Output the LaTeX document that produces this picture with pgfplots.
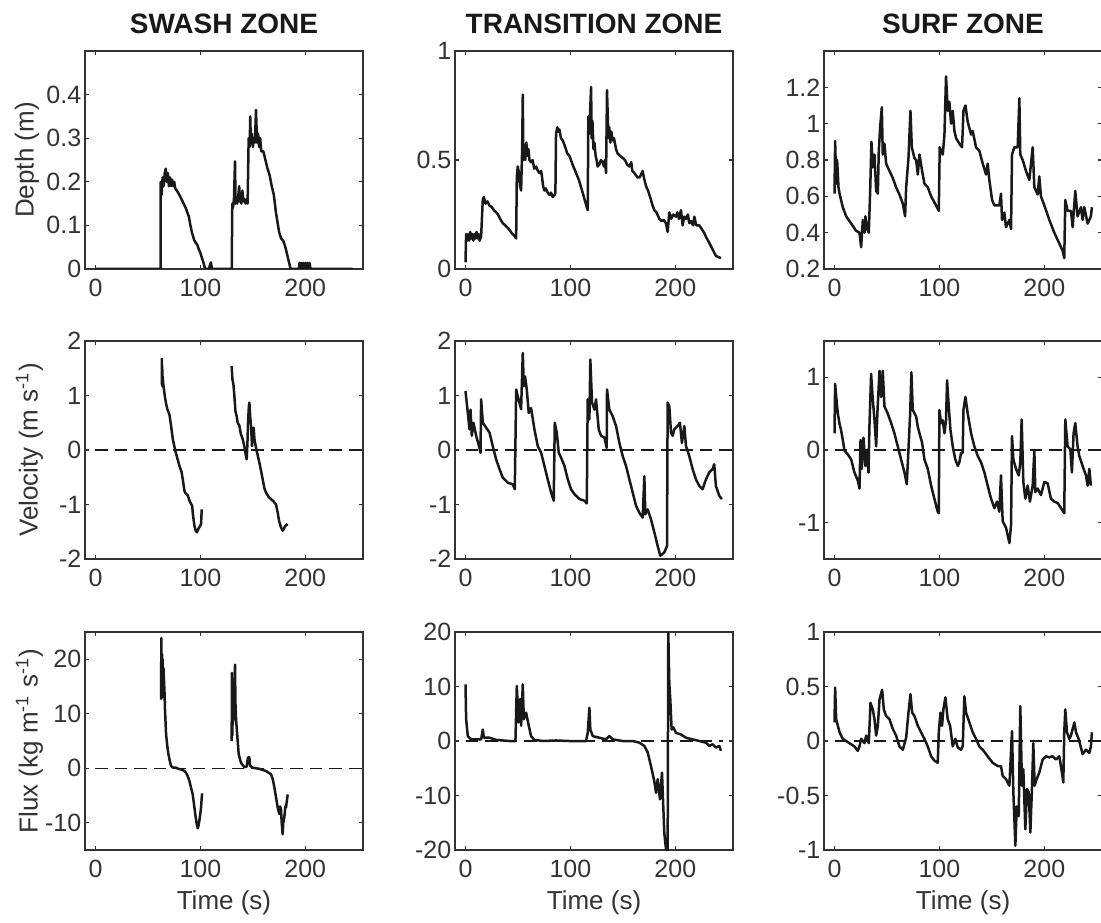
\documentclass[border=0pt]{standalone}
\usepackage{fontspec}
\setmainfont{Liberation Sans}
\usepackage{pgfplots}
\pgfplotsset{compat=1.18}
\definecolor{ink}{gray}{0.1}
\definecolor{frame}{gray}{0.2}
\pgfplotsset{
  panel/.style={
    scale only axis, width=111.2pt, height=87.2pt,
    xmin=-10, xmax=255, xtick={0,100,200},
    tick pos=both, tick align=inside, major tick length=1.6pt,
    axis line style={draw=frame, line width=0.7pt},
    every tick/.style={draw=frame, line width=0.5pt},
    tick label style={font=\fontsize{10}{12}\selectfont, text=frame},
    /pgf/number format/assume math mode=true,
    xticklabel style={inner sep=0pt, yshift=-4pt},
    yticklabel style={inner sep=0pt, xshift=-1.3pt},
    every axis title/.style={at={(axis description cs:0.5,1)}, anchor=center, yshift=10.8pt, font=\bfseries\fontsize{11.2}{13}\selectfont, text=ink},
    every axis y label/.style={at={(axis description cs:-0.2,0.5)}, rotate=90, anchor=center, font=\fontsize{10.4}{12}\selectfont, text=frame},
    every axis x label/.style={at={(axis description cs:0.5,-0.243)}, anchor=center, font=\fontsize{10.4}{12}\selectfont, text=frame},
    trace/.style={ink, line width=1pt, line join=round, mark=none},
    zeroline/.style={ink, line width=0.6pt, dash pattern=on 5pt off 2.8pt},
  }
}
\begin{document}
\begin{tikzpicture}
% ---------------- Row 1: Depth ----------------
\begin{axis}[panel, at={(34pt,-20.4pt)}, anchor=north west,
  title={SWASH ZONE}, ylabel={Depth (m)},
  every axis y label/.append style={at={(axis description cs:-0.2086,0.5)}},
  ymin=0, ymax=0.5, ytick={0,0.1,0.2,0.3,0.4}]
\addplot[trace] coordinates {
(0,0) (62,0) (62.2,0.20) (63,0.17) (64,0.21) (65,0.19) (66,0.22) (67,0.23) (68,0.20) (69,0.22) (70,0.19) (71,0.21) (72,0.19) (73,0.205) (74,0.19) (75,0.20) (76,0.185) (78,0.178) (80,0.17) (82,0.16) (84,0.15) (86,0.14) (87.5,0.13) (89,0.12) (90.5,0.10) (92,0.083) (93,0.075) (94,0.067) (95.5,0.06) (97,0.056) (98.5,0.045) (100,0.037) (101.5,0.025) (103,0.014) (104.5,0) (108,0) (110,0.015) (111,0) (130,0)
(130.2,0.12) (130.5,0.15) (131,0.14) (132,0.16) (133,0.247) (133.5,0.15) (134,0.16) (135,0.15) (136,0.165) (137,0.19) (137.5,0.155) (138,0.16) (139,0.15) (140,0.18) (141,0.155) (142,0.16) (143,0.15) (144,0.16) (145,0.15)
(146,0.30) (147,0.28) (147.5,0.35) (148,0.30) (149,0.31) (150,0.28) (151,0.30) (152,0.29) (153,0.365) (154,0.29) (155,0.31) (156,0.28) (157,0.30) (158,0.27) (160,0.27) (162,0.25) (164,0.23) (166,0.215) (168,0.19) (170,0.17) (172,0.13) (174,0.10) (175,0.085) (177,0.07) (179,0.065) (181,0.05) (183,0.03) (185,0.01) (186,0)
(194,0) (194.5,0.014) (195,0) (196,0.014) (197,0) (198,0.014) (199,0) (200,0.014) (201,0) (202,0.014) (203,0) (204,0.014) (205,0) (245,0)
};
\end{axis}

\begin{axis}[panel, at={(182pt,-20.4pt)}, anchor=north west,
  title={TRANSITION ZONE},
  ymin=0, ymax=1, ytick={0,0.5,1}]
\addplot[trace] coordinates {
(0,0.03) (0.6,0.16) (1.5,0.13) (2.5,0.16) (3.5,0.13) (4.5,0.17) (5.5,0.14) (6.5,0.16) (7.5,0.13) (8.5,0.16) (9.5,0.14) (10.5,0.17) (11.5,0.14) (12.5,0.16) (13.5,0.13) (14.9,0.15)
(16.5,0.32) (17.5,0.33) (19,0.30) (21,0.31) (22.9,0.29) (25,0.285) (27,0.27) (29.2,0.26) (31,0.25) (33,0.23) (35.6,0.21) (38,0.20) (40,0.19) (41.9,0.18) (44,0.165) (46,0.155) (48.3,0.14)
(48.9,0.42) (49.8,0.47) (51,0.44) (52,0.38) (53,0.36) (54,0.55) (54.6,0.80) (55.2,0.50) (56.2,0.55) (57,0.50) (58,0.58) (59,0.52) (60,0.55) (61,0.50) (62.5,0.49) (64,0.50) (65.5,0.46) (67.3,0.47) (69,0.45) (70.5,0.44) (72.1,0.45) (73,0.42) (74,0.38) (75.2,0.36) (76.5,0.37) (78.4,0.35) (80,0.34) (81.5,0.35) (83.2,0.33) (85,0.34) (85.7,0.35)
(86.3,0.62) (87.5,0.65) (88.5,0.63) (89.5,0.64) (91,0.60) (92.7,0.59) (95,0.56) (97,0.53) (99,0.52) (102,0.48) (105.4,0.44) (108,0.41) (111.7,0.35) (114,0.31) (116.5,0.27)
(117.1,0.70) (118,0.62) (118.7,0.71) (119.7,0.835) (120.3,0.60) (121,0.68) (122,0.55) (122.9,0.58) (124,0.52) (125,0.50) (126,0.47) (127.6,0.48) (129,0.50) (130.8,0.49) (132,0.47) (133,0.50) (134,0.44)
(134.9,0.82) (135.6,0.70) (136.3,0.60) (137.1,0.65) (138,0.58) (139,0.63) (140.3,0.59) (141.5,0.60) (143.5,0.55) (145,0.53) (147,0.52) (149.8,0.51) (152,0.50) (154,0.48) (156.2,0.47) (158,0.49) (159,0.45) (161,0.44) (162.5,0.43) (164,0.42) (166,0.42) (168.9,0.45) (170,0.42) (172.1,0.38) (174,0.36) (176,0.33) (178.4,0.29) (180,0.27) (182,0.26) (184.8,0.23) (187,0.22) (189,0.225) (191.1,0.21) (192.7,0.17) (194.3,0.26) (196,0.23) (198,0.25) (200.6,0.24) (202,0.26) (203.5,0.23) (205.4,0.27) (207,0.20) (208.5,0.24) (210.2,0.23) (212,0.25) (213.3,0.21) (215,0.22) (217,0.20) (218.1,0.24) (220,0.20) (222.9,0.20) (225,0.185) (227.6,0.165) (230,0.14) (232.4,0.12) (235,0.095) (238.7,0.06) (241,0.055) (243.5,0.05)
};
\end{axis}

\begin{axis}[panel, at={(329.6pt,-20.4pt)}, anchor=north west,
  title={SURF ZONE},
  ymin=0.2, ymax=1.4, ytick={0.2,0.4,0.6,0.8,1,1.2}]
\addplot[trace] coordinates {
(0,0.615) (0.6,0.905) (1.6,0.67) (2.5,0.80) (3.8,0.65) (4.8,0.615) (7.9,0.54) (11.1,0.49) (15.9,0.45) (20.6,0.41) (23.8,0.40) (25.4,0.32) (27,0.47) (28.6,0.40) (29.5,0.49) (31.1,0.42) (32.7,0.40)
(34,0.63) (35.2,0.90) (36.5,0.76) (38.1,0.83) (39.7,0.63) (41.3,0.615) (42.2,0.85) (43.5,0.98) (45.1,1.09) (46,0.83) (47.6,0.89) (49.2,0.78) (52.4,0.74) (55.6,0.70) (58.7,0.65) (61.9,0.61) (65.1,0.56) (67.3,0.49)
(68.3,0.65) (70.5,0.81) (72.4,1.07) (73.7,0.87) (76.2,0.81) (77.8,0.80) (79.4,0.72) (81,0.83) (83.5,0.74) (85.7,0.67) (88.9,0.65) (92.1,0.60) (96.8,0.55) (99.4,0.52)
(100.3,0.87) (101.6,0.85) (103.2,0.83) (104.8,0.94) (106.3,1.26) (108,1.07) (109.5,1.12) (111.1,1.00) (112.7,1.07) (114.3,0.96) (115.9,0.92) (119,0.89) (121.6,0.87)
(122.9,1.07) (124.8,1.10) (127,1.01) (130.2,0.94) (131.7,0.96) (134.9,0.87) (138.1,0.85) (141.3,0.78) (144.4,0.72) (146,0.78) (147.6,0.69) (150.2,0.58) (152.4,0.55) (157.1,0.55) (158.7,0.615) (159.7,0.47) (161.9,0.51) (163.5,0.43) (166.7,0.47) (168.3,0.42)
(169.2,0.83) (171.4,0.87) (174.6,0.87) (176.2,1.14) (177.1,0.83) (179.4,0.80) (182.5,0.74) (185.7,0.69) (188.9,0.87) (190.5,0.65) (193.7,0.61) (195.2,0.71) (196.8,0.60) (200,0.55) (204.8,0.47) (209.5,0.40) (214.3,0.34) (217.5,0.30) (219,0.26)
(220,0.58) (222.2,0.52) (225.4,0.52) (227,0.43) (229.5,0.63) (231.7,0.49) (234.9,0.54) (236.5,0.47) (238.1,0.54) (241.3,0.45) (244.4,0.49) (245.4,0.54)
};
\end{axis}

% ---------------- Row 2: Velocity ----------------
\begin{axis}[panel, at={(34pt,-136.4pt)}, anchor=north west,
  ylabel={Velocity (m s\textsuperscript{-1})},
  ymin=-2, ymax=2, ytick={-2,-1,0,1,2}]
\addplot[zeroline] coordinates {(0,0) (255,0)};
\addplot[trace] coordinates {
(63.2,1.69) (63.4,1.2) (63.6,1.55) (63.8,1.17) (64.1,1.35) (64.5,1.23) (66,1.0) (67.3,0.85) (68.5,0.75) (70.5,0.65) (72,0.45) (73.7,0.2) (75.9,0) (78,-0.15) (80,-0.29) (82,-0.4) (83.2,-0.54) (84.8,-0.75) (86,-0.8) (87.9,-0.83) (90,-0.95) (92.1,-1.02) (93,-1.2) (94.3,-1.39) (95.5,-1.48) (96.8,-1.51) (98,-1.45) (99.5,-1.4) (100.6,-1.36) (101.3,-1.09)
};
\addplot[trace] coordinates {
(129.8,1.54) (130.5,1.3) (131.5,1.2) (132.4,0.99) (133.5,0.7) (134.6,0.62) (135.5,0.5) (137.1,0.45) (138.5,0.3) (140.3,0.2) (141.5,0.1) (142.5,0.01) (143.3,-0.1) (144.1,-0.17) (144.8,0.1) (145.4,0.5) (146.2,0.8) (146.7,0.87) (147.5,0.6) (148.3,0.44) (149.2,0.07) (150,0.3) (150.8,0.41) (151.5,0.2) (152.1,0.13) (153.7,-0.02) (156.2,-0.23) (158,-0.4) (159.4,-0.54) (161,-0.7) (162.5,-0.78) (165,-0.86) (167.3,-0.9) (170,-0.95) (172.1,-1.0) (173.7,-1.15) (175,-1.3) (176.8,-1.42) (178.4,-1.48) (179.5,-1.45) (180.9,-1.39) (183.2,-1.36)
};
\end{axis}

\begin{axis}[panel, at={(182pt,-136.4pt)}, anchor=north west,
  ymin=-2, ymax=2, ytick={-2,-1,0,1,2}]
\addplot[zeroline] coordinates {(0,0) (255,0)};
\addplot[trace] coordinates {
(0,1.08) (2.2,0.68) (3.8,0.38) (4.8,0.74) (6,0.26) (7.6,0.5) (10.2,0.26) (13.3,0.04) (14.3,-0.05) (14.9,0.93) (16.5,0.5) (19.7,0.41) (22.9,0.32) (26,0.07) (29.2,-0.17) (32.4,-0.35) (35.6,-0.51) (40.3,-0.6) (45.1,-0.63) (47,-0.72)
(48.3,1.11) (49.8,0.99) (51.4,0.87) (53,0.75) (54.6,1.78) (55.6,1.17) (56.8,1.35) (58.4,1.11) (60.3,0.68) (62.5,0.77) (65.7,0.38) (68.9,0.07) (72.1,-0.05) (75.2,-0.29) (78.4,-0.54) (81.6,-0.78) (84.1,-0.93)
(85.1,0.5) (87,0.32) (88.9,-0.05) (91.1,-0.14) (94.3,-0.29) (97.5,-0.54) (100.6,-0.72) (103.8,-0.81) (108.6,-0.9) (113.3,-0.93) (115.6,-0.98)
(116.5,0.93) (118.1,0.56) (119,1.66) (120.6,0.87) (122.9,0.74) (124.4,0.93) (127,0.38) (129.2,0.26) (132.4,0.23) (134.6,0.04)
(134.9,1.11) (137.1,0.74) (140.3,0.62) (143.5,0.44) (146.7,0.13) (149.8,-0.11) (153,-0.29) (156.2,-0.54) (159.4,-0.78) (162.5,-1.02) (165.7,-1.15) (168.9,-1.24) (170.5,-0.48) (171.4,-1.18) (173.7,-1.09) (176.8,-1.27) (180,-1.51) (183.2,-1.76) (185.7,-1.94) (189.5,-1.88) (192.1,-1.76)
(192.7,0.87) (194.3,0.8) (195.9,0.32) (197.5,0.26) (199,0.38) (202.2,0.44) (204.4,0.5) (206.3,0.13) (208.6,0.44) (210.2,0.07) (213.3,-0.11) (216.5,-0.35) (219.7,-0.54) (222.9,-0.66) (226,-0.72) (229.2,-0.54) (232.4,-0.41) (235.6,-0.35) (237.1,-0.26) (238.7,-0.66) (241.9,-0.84) (244.4,-0.9)
};
\end{axis}

\begin{axis}[panel, at={(329.6pt,-136.4pt)}, anchor=north west,
  ymin=-1.5, ymax=1.5, ytick={-1,0,1}]
\addplot[zeroline] coordinates {(0,0) (255,0)};
\addplot[trace] coordinates {
(0,0.23) (0.6,0.91) (2.2,0.64) (3.2,0.5) (4.8,0.36) (6.3,0.27) (7.9,0.14) (9.5,-0.01) (12.7,-0.06) (15.9,-0.13) (19,-0.31) (22.2,-0.42) (23.8,-0.53) (24.8,0.14) (26,-0.26) (27.6,0.17) (29.5,-0.22) (30.8,0) (32.4,-0.31)
(33.3,0.33) (34.9,1.05) (36.5,0.69) (38.1,0.42) (39.7,0.05) (41,0.55) (42.9,1.09) (44.4,0.73) (46,1.09) (47.6,0.6) (50.8,0.5) (54,0.37) (57.1,0.23) (60.3,0.05) (63.5,-0.13) (66.7,-0.31) (68.9,-0.47)
(70.5,0.01) (72.1,0.5) (73.3,1.07) (74.6,0.55) (77.8,0.46) (79.4,0.32) (81,0.23) (83.5,0.1) (85.7,-0.13) (88.9,-0.26) (92.1,-0.49) (95.2,-0.67) (98.4,-0.85) (99.4,-0.87)
(100,0.55) (101.6,0.37) (103.2,0.41) (104.8,0.23) (106.3,0.41) (107.3,0.96) (108.9,0.6) (110.5,0.28) (112.7,0.05) (115.2,-0.13) (117.5,-0.22) (119,-0.17) (120.6,-0.04) (122.2,-0.04)
(122.9,0.55) (124.8,0.73) (127,0.5) (130.2,0.23) (133.3,0.05) (136.5,-0.08) (139.7,-0.17) (142.9,-0.31) (146,-0.49) (149.2,-0.67) (152.4,-0.8) (154.9,-0.71) (157.1,-0.85) (158.7,-0.35) (160.3,-0.98) (163.5,-1.07) (166.7,-1.28) (168.3,-1.03)
(169.2,0.19) (170.5,-0.13) (173,-0.26) (175.6,-0.35) (177.1,-0.17) (178.4,0.42) (180,-0.44) (181.9,-0.67) (184.1,-0.49) (186.3,-0.71) (188.9,-0.49) (190.5,0) (191.4,-0.58) (193.7,-0.53) (196.8,-0.62) (200,-0.44) (203.2,-0.46) (206.3,-0.67) (209.5,-0.71) (212.7,-0.73) (215.9,-0.8) (219,-0.87)
(220,0.42) (222.2,0.05) (224.8,0.01) (226.3,-0.31) (227.9,0.23) (229.5,0.37) (231.7,0.05) (233.3,-0.08) (236.5,-0.22) (239.7,-0.35) (241.3,-0.49) (242.9,-0.26) (244.4,-0.49)
};
\end{axis}

% ---------------- Row 3: Flux ----------------
\begin{axis}[panel, at={(34pt,-252.8pt)}, anchor=north west,
  ylabel={Flux (kg m\textsuperscript{-1} s\textsuperscript{-1})}, xlabel={Time (s)},
  ymin=-15, ymax=25, ytick={-10,0,10,20}]
\addplot[zeroline] coordinates {(0,0) (255,0)};
\addplot[trace] coordinates {
(62.5,12.6) (62.8,23.9) (63.1,14) (63.4,21) (63.7,13) (64,20) (64.4,15) (64.8,18.4) (65.3,16) (65.7,14.5) (66.3,10.5) (67.3,6.2) (68.5,4) (69.5,2.6) (71,1.2) (72.1,0.4) (74,0.1) (76.8,0.1) (79,-0.1) (81.6,-0.2) (84,-0.4) (86.3,-0.8) (88,-1.5) (89.5,-2.3) (91,-3.5) (92.7,-4.8) (94.3,-7.2) (95.5,-9) (96.5,-10.2) (97.5,-11.0) (98.2,-10.5) (99,-9.6) (100,-8.2) (100.6,-7.2) (101.6,-4.6)
};
\addplot[trace] coordinates {
(129.8,5.0) (130.1,17.5) (130.4,6) (130.7,16) (131,8) (131.3,15) (131.6,10) (132,14) (132.4,9) (133,19) (133.4,12) (134,9) (134.6,7.4) (136.5,2.6) (138.7,1.0) (141.9,0.2) (144.1,0.3) (145,1.5) (145.4,2.0) (146.7,2.0) (147.3,0.5) (149.8,0.1) (156.2,-0.1) (162.5,-0.5) (167.3,-1.1) (169,-2) (170.5,-3.5) (173.7,-7.2) (175.2,-8.4) (176,-7) (176.8,-7.5) (177.5,-10) (178.4,-12.1) (179,-10) (180,-9) (181,-7) (181.6,-7.2) (183.2,-4.8)
};
\end{axis}

\begin{axis}[panel, at={(182pt,-252.8pt)}, anchor=north west,
  xlabel={Time (s)},
  ymin=-20, ymax=20, ytick={-20,-10,0,10,20}]
\addplot[zeroline] coordinates {(0,0) (245,0)};
\addplot[trace] coordinates {
(0,10.4) (0.6,4) (2.2,0.9) (5.4,0.3) (10.2,0.3) (14.9,0.3) (16.5,2.1) (17.5,0.6) (22.9,0.6) (29.2,0.2) (41.9,0) (47.6,0)
(48.9,10.1) (50.5,3.4) (52.1,7.7) (53,2.8) (54.6,10.4) (55.6,4) (57.8,5.2) (60.3,2.8) (62.5,0.9) (65.7,0.2) (73.7,0) (86.3,0.1) (99,0) (114.9,0)
(116.5,1.5) (118.1,6.1) (119,2.1) (121.3,0.9) (127.6,0.6) (134,0.3) (137.1,0.9) (140.3,0.3) (149.8,0) (159.4,0) (165.7,-0.3) (170.5,-0.9) (173.7,-2.1) (176.8,-4.6) (180,-7.4) (181.6,-9.5) (183.2,-7) (185.4,-10.7) (187.3,-5.8) (189.5,-16.9) (191.1,-19.8) (192.7,-20)
(193.3,19.9) (194.3,10.4) (195.2,7.7) (196.5,2.1) (198.1,2.5) (200.6,1.5) (205.4,1.2) (210.2,0.6) (216.5,0.3) (222.9,0) (229.2,-0.3) (232.4,-0.9) (235.6,-0.6) (238.7,-1.2) (241.9,-0.9) (243.5,-1.8)
};
\end{axis}

\begin{axis}[panel, at={(329.6pt,-252.8pt)}, anchor=north west,
  xlabel={Time (s)},
  ymin=-1, ymax=1, ytick={-1,-0.5,0,0.5,1}]
\addplot[zeroline] coordinates {(0,0) (255,0)};
\addplot[trace] coordinates {
(0,0.17) (0.6,0.49) (1.6,0.2) (3.2,0.14) (4.8,0.08) (7.9,0.02) (14.3,-0.02) (19,-0.05) (22.2,-0.09) (23.8,-0.05) (25.4,0.02) (28.6,-0.02) (30.2,0.05) (32.7,-0.02)
(34.3,0.35) (36.5,0.29) (38.1,0.2) (39.7,0.05) (41.3,0.14) (42.9,0.38) (45.4,0.47) (47,0.29) (49.2,0.23) (52.4,0.2) (55.6,0.11) (58.7,0.05) (61.9,-0.05) (65.1,-0.08) (68.3,0.03)
(70.5,0.26) (72.4,0.43) (74,0.26) (76.2,0.23) (79.4,0.14) (82.5,0.08) (85.7,0.02) (88.9,-0.05) (92.1,-0.14) (95.2,-0.18) (98.4,-0.2)
(99.4,0.08) (101,0.26) (102.5,0.14) (103.8,0.29) (105.7,0.4) (107.9,0.2) (110.2,0.14) (112.7,-0.05) (115.2,0.02) (117.5,-0.06) (120.6,-0.08) (122.2,-0.05)
(123.8,0.41) (125.4,0.26) (128.6,0.17) (131.7,0.08) (134.9,0.02) (138.1,-0.05) (141.3,-0.08) (146,-0.14) (150.8,-0.2) (155.6,-0.23) (158.7,-0.23) (160.3,-0.32) (163.5,-0.35) (166.7,-0.41)
(169.2,0.09) (170.5,-0.47) (172.4,-0.96) (173.7,-0.6) (175.6,-0.69) (177.1,0.32) (178.7,-0.41) (180,-0.26) (181.9,-0.81) (183.5,-0.44) (185.1,-0.47) (186.7,-0.84) (188.3,-0.41) (189.5,-0.02) (190.8,-0.41) (192.7,-0.35) (195.2,-0.29) (198.4,-0.17) (201.6,-0.14) (204.8,-0.15) (207.9,-0.14) (211.1,-0.17) (214.3,-0.14) (216.8,-0.29) (218.1,-0.38)
(219,0.08) (220,0.29) (221.6,0.08) (223.8,0.02) (225.4,0.05) (228.6,0.17) (230.2,0.08) (232.7,0.02) (234.9,-0.06) (236.5,-0.12) (239.7,-0.08) (242.9,-0.11) (244.4,-0.05) (245.4,0.08)
};
\end{axis}

\pgfresetboundingbox
\path[use as bounding box] (0,0) rectangle (440.4pt,-368.8pt);
\end{tikzpicture}
\end{document}
